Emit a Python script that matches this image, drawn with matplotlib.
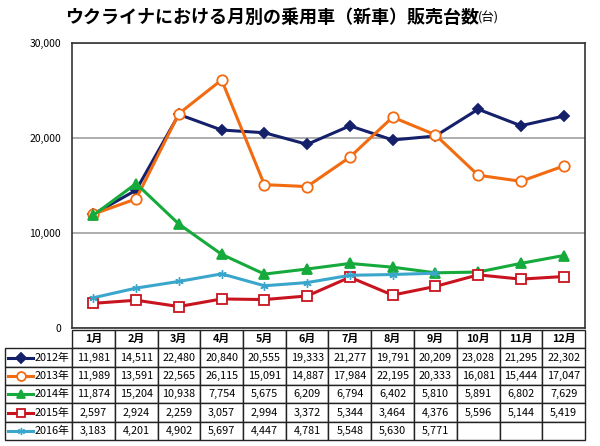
import numpy as np
import matplotlib
matplotlib.use("Agg")
import matplotlib.pyplot as plt
from matplotlib.lines import Line2D

plt.rcParams['font.family'] = ['Noto Sans CJK JP', 'DejaVu Sans']

# ---------- Data ----------
months = ["1月", "2月", "3月", "4月", "5月", "6月", "7月", "8月", "9月", "10月", "11月", "12月"]
years = ["2012年", "2013年", "2014年", "2015年", "2016年"]
s2012 = [11981, 14511, 22480, 20840, 20555, 19333, 21277, 19791, 20209, 23028, 21295, 22302]
s2013 = [11989, 13591, 22565, 26115, 15091, 14887, 17984, 22195, 20333, 16081, 15444, 17047]
s2014 = [11874, 15204, 10938, 7754, 5675, 6209, 6794, 6402, 5810, 5891, 6802, 7629]
s2015 = [2597, 2924, 2259, 3057, 2994, 3372, 5344, 3464, 4376, 5596, 5144, 5419]
s2016 = [3183, 4201, 4902, 5697, 4447, 4781, 5548, 5630, 5771]
series = [s2012, s2013, s2014, s2015, s2016]

# ---------- Styles ----------
colors = ["#15206b", "#f26b10", "#16aa3c", "#c8141e", "#3ba6cc"]
markers = ["D", "o", "^", "s", (6, 2, 0)]
faces = ["#15206b", "white", "#16aa3c", "white", "#3ba6cc"]
msizes = [5.5, 7.5, 7.5, 7.5, 6]
mews = [1.3, 1.3, 1.3, 1.3, 1.0]

fig = plt.figure(figsize=(6.0, 4.46), dpi=100)
W, H = 600, 446
L, R, T, B = 72, 585, 43, 328
ax = fig.add_axes([L / W, 1 - B / H, (R - L) / W, (B - T) / H])

x = np.arange(len(months))
for vals, c, m, fc, ms, mw in zip(series, colors, markers, faces, msizes, mews):
    ax.plot(x[:len(vals)], vals, color=c, lw=2.2, marker=m, ms=ms,
            mfc=fc, mec=c, mew=mw, zorder=3)

ax.set_xlim(-0.5, 11.5)
ax.set_ylim(0, 30000)
ax.set_yticks([0, 10000, 20000, 30000])
ax.set_yticklabels(["0", "10,000", "20,000", "30,000"], fontsize=7.5)
ax.tick_params(axis='y', length=0, pad=8)
ax.set_xticks([])
ax.grid(axis='y', color="#a0a0a0", lw=1.2)
ax.set_axisbelow(True)
for sp in ax.spines.values():
    sp.set_color("#333333")
    sp.set_linewidth(1.2)

# ---------- Table ----------
tL, tT, tB = 5, 330, 440
cells = [[""] + months]
for yname, vals in zip(years, series):
    row = [yname] + [f"{v:,}" for v in vals] + [""] * (12 - len(vals))
    cells.append(row)

lab_w = (L - tL) / (R - L)
mon_w = 1 / 12
tbl = ax.table(cellText=cells, cellLoc='center',
               colWidths=[lab_w] + [mon_w] * 12,
               bbox=[-(L - tL) / (R - L), -(tB - B) / (B - T),
                     (R - tL) / (R - L), (tB - tT) / (B - T)])
tbl.auto_set_font_size(False)
tbl.set_fontsize(7.8)
for (r, c), cell in tbl.get_celld().items():
    cell.set_edgecolor("#222222")
    cell.set_linewidth(1.0)
    if r == 0:
        cell.get_text().set_fontweight('bold')
    if c == 0 and r > 0:
        cell.get_text().set_ha('right')
        cell.PAD = 0.04
tbl[0, 0].set_visible(False)

# legend keys in row label cells
nrows = len(cells)
row_h = (tB - tT) / nrows
for i, (c, m, fc, ms, mw) in enumerate(zip(colors, markers, faces, msizes, mews)):
    yc = tT + (i + 1.5) * row_h
    yax = 1 - (yc - T) / (B - T)
    x0 = (8 - L) / (R - L)
    x1 = (33 - L) / (R - L)
    ax.add_line(Line2D([x0, x1], [yax, yax], transform=ax.transAxes,
                       color=c, lw=2.2, clip_on=False, zorder=5))
    ax.add_line(Line2D([(x0 + x1) / 2], [yax], transform=ax.transAxes,
                       color=c, marker=m, ms=ms * 0.85, mfc=fc, mec=c,
                       mew=mw, clip_on=False, zorder=6))

# ---------- Title ----------
fig.text(65 / W, 1 - 17 / H, "ウクライナにおける月別の乗用車（新車）販売台数",
         fontsize=13, fontweight='bold', ha='left', va='center')
fig.text(478 / W, 1 - 18 / H, "(台)", fontsize=9, ha='left', va='center')

fig.savefig("out.png", dpi=100)
